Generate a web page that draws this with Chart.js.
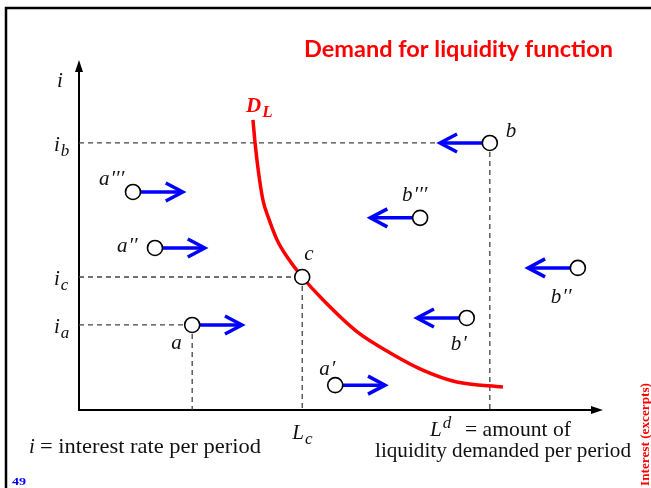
<!DOCTYPE html>
<html><head><meta charset="utf-8">
<script src="https://cdn.jsdelivr.net/npm/chart.js@4"></script>
<style>html,body{margin:0;padding:0;background:#fff}#wrap{width:651px;height:488px;position:relative}</style>
</head><body><div id="wrap"><canvas id="c" width="651" height="488"></canvas></div>
<script>
// ---- data ----
const curveL = [33.2, 33.6, 34.2, 35.1, 36.3, 37.8, 40.1, 42.6, 46.6, 53.1, 59.4, 65.6, 72.1, 80.9];
const curveI = [82.9, 76.3, 68.6, 60.0, 54.3, 48.6, 42.9, 38.0, 31.4, 22.3, 16.3, 11.4, 8.0, 6.6];
const pointBase   = ['b', 'a', 'a', 'c', 'a', 'a', 'b', 'b', 'b'];
const pointPrimes = [0, 3, 2, 0, 0, 1, 3, 2, 1];
const pointL = [78.4, 10.3, 14.5, 42.6, 21.6, 48.9, 65.1, 95.2, 74.0];
const pointI = [76.3, 62.3, 46.3, 38.0, 24.3, 7.1, 54.9, 40.6, 26.3];
const arrowShift = [-9.5, 9.5, 9.5, 0, 9.5, 9.5, -9.5, -9.5, -9.5];
const levelNames = ['b', 'c', 'a'];
const levelI = [76.3, 38.0, 24.3];
const levelL = [78.4, 42.6, 21.6];
const xTickNames = ['c'];
const xTickL = [42.6];

// ---- layout (label offsets in px relative to point) ----
const labelOff = [[16, -6], [-34, -7], [-38, 4], [2, -17], [-21, 24], [-16, -10], [-18, -17], [-27, 35], [-16, 32]];

const serif = '"Liberation Serif", "DejaVu Serif", serif';

function fitText(ctx, text, x, y, width, align) {
  const w = ctx.measureText(text).width;
  const s = width / w;
  ctx.save();
  ctx.textAlign = 'left';
  let x0 = x;
  if (align === 'right') x0 = x - width;
  else if (align === 'center') x0 = x - width / 2;
  ctx.translate(x0, y);
  ctx.scale(s, 1);
  ctx.fillText(text, 0, 0);
  ctx.restore();
}

function mathLabel(ctx, x, y, base, sub, sup, primes, size, color, bold) {
  const w = bold ? 'bold ' : '';
  ctx.fillStyle = color;
  ctx.textAlign = 'left';
  ctx.textBaseline = 'alphabetic';
  ctx.font = 'italic ' + w + size + 'px ' + serif;
  ctx.fillText(base, x, y);
  let cx = x + ctx.measureText(base).width;
  if (primes) {
    const p = '′'.repeat(primes);
    ctx.fillText(p, cx + 1, y);
    cx += ctx.measureText(p).width + 1;
  }
  if (sub) {
    ctx.font = 'italic ' + w + Math.round(size * 0.8) + 'px ' + serif;
    ctx.fillText(sub, cx + 1, y + size * 0.22);
    cx += ctx.measureText(sub).width + 1;
  }
  if (sup) {
    ctx.font = 'italic ' + w + Math.round(size * 0.8) + 'px ' + serif;
    ctx.fillText(sup, cx + 1, y - size * 0.4);
    cx += ctx.measureText(sup).width + 1;
  }
  return cx;
}

const datasets = [];
// circles (top)
datasets.push({
  type: 'scatter',
  data: pointL.map((v, k) => ({x: v, y: pointI[k]})),
  pointRadius: 7.5, pointBackgroundColor: '#ffffff', pointBorderColor: '#000000', pointBorderWidth: 1.6,
  showLine: false
});
// arrows
pointL.forEach((v, k) => {
  if (!arrowShift[k]) return;
  datasets.push({
    type: 'line',
    data: [{x: v, y: pointI[k]}, {x: v + arrowShift[k], y: pointI[k]}],
    borderColor: '#0000ff', borderWidth: 3.5, pointRadius: 0, fill: false
  });
});
// demand curve
datasets.push({
  type: 'line',
  data: curveL.map((v, k) => ({x: v, y: curveI[k]})),
  borderColor: '#ff0000', borderWidth: 3.5, pointRadius: 0, fill: false,
  tension: 0.4, cubicInterpolationMode: 'monotone'
});
// dashed reference lines
levelI.forEach((lv, k) => {
  datasets.push({type: 'line', data: [{x: 0, y: lv}, {x: levelL[k], y: lv}],
    borderColor: '#444444', borderWidth: 1.3, borderDash: [5, 4], pointRadius: 0, fill: false});
  datasets.push({type: 'line', data: [{x: levelL[k], y: lv}, {x: levelL[k], y: 0}],
    borderColor: '#444444', borderWidth: 1.3, borderDash: [5, 4], pointRadius: 0, fill: false});
});

const deco = {
  id: 'deco',
  beforeDatasetsDraw(chart) {
    const ctx = chart.ctx, a = chart.chartArea;
    ctx.save();
    ctx.strokeStyle = '#000'; ctx.lineWidth = 2.5;
    ctx.strokeRect(6, 8, 720, 600);
    ctx.lineWidth = 2; ctx.strokeStyle = '#000'; ctx.fillStyle = '#000';
    ctx.beginPath(); ctx.moveTo(a.left, a.bottom); ctx.lineTo(a.left, a.top + 8); ctx.stroke();
    ctx.beginPath(); ctx.moveTo(a.left - 1, a.bottom); ctx.lineTo(a.right - 8, a.bottom); ctx.stroke();
    ctx.beginPath(); ctx.moveTo(a.left, a.top); ctx.lineTo(a.left - 4, a.top + 12); ctx.lineTo(a.left + 4, a.top + 12); ctx.closePath(); ctx.fill();
    ctx.beginPath(); ctx.moveTo(a.right, a.bottom); ctx.lineTo(a.right - 12, a.bottom - 4); ctx.lineTo(a.right - 12, a.bottom + 4); ctx.closePath(); ctx.fill();
    ctx.restore();
  },
  afterDatasetsDraw(chart) {
    const ctx = chart.ctx, xs = chart.scales.x, ys = chart.scales.y;
    ctx.save();
    ctx.strokeStyle = '#0000ff'; ctx.lineWidth = 3.5; ctx.lineCap = 'butt'; ctx.lineJoin = 'miter';
    pointL.forEach((v, k) => {
      if (!arrowShift[k]) return;
      const tx = xs.getPixelForValue(v + arrowShift[k]);
      const ty = ys.getPixelForValue(pointI[k]);
      const d = Math.sign(arrowShift[k]);
      ctx.beginPath();
      ctx.moveTo(tx - d * 17, ty - 9);
      ctx.lineTo(tx, ty);
      ctx.lineTo(tx - d * 17, ty + 9);
      ctx.stroke();
    });
    pointL.forEach((v, k) => {
      const px = xs.getPixelForValue(v) + labelOff[k][0];
      const py = ys.getPixelForValue(pointI[k]) + labelOff[k][1];
      mathLabel(ctx, px, py, pointBase[k], null, null, pointPrimes[k], 21, '#111', false);
    });
    levelI.forEach((lv, k) => {
      mathLabel(ctx, 54, ys.getPixelForValue(lv) + 8, 'i', levelNames[k], null, 0, 21, '#111', false);
    });
    mathLabel(ctx, 57, 87, 'i', null, null, 0, 21, '#111', false);
    xTickL.forEach((lv, k) => {
      mathLabel(ctx, xs.getPixelForValue(lv) - 10, 439, 'L', xTickNames[k], null, 0, 21, '#111', false);
    });
    mathLabel(ctx, 246, 112, 'D', 'L', null, 0, 21, '#ff0000', true);
    // axis texts
    mathLabel(ctx, 430, 436, 'L', null, 'd', 0, 21, '#111', false);
    ctx.font = '22px ' + serif; ctx.fillStyle = '#111'; ctx.textBaseline = 'alphabetic';
    fitText(ctx, '= amount of', 465, 436, 106, 'left');
    fitText(ctx, 'liquidity demanded per period', 375, 457, 256, 'left');
    mathLabel(ctx, 29, 453, 'i', null, null, 0, 21, '#111', false);
    ctx.font = '22px ' + serif; ctx.fillStyle = '#111';
    fitText(ctx, '= interest rate per period', 40, 453, 221, 'left');
    // title
    ctx.font = 'bold 22px Lato, "Open Sans", sans-serif';
    ctx.fillStyle = '#ff0000';
    fitText(ctx, 'Demand for liquidity function', 304, 57, 309, 'left');
    // page number
    ctx.font = 'bold 11px ' + serif; ctx.fillStyle = '#0000ff';
    fitText(ctx, '49', 12, 485, 14, 'left');
    // side text
    ctx.translate(649, 486); ctx.rotate(-Math.PI / 2);
    ctx.font = 'bold 12px ' + serif; ctx.fillStyle = '#ff0000';
    fitText(ctx, 'Interest (excerpts)', 0, 0, 103, 'left');
    ctx.restore();
  }
};

new Chart(document.getElementById('c'), {
  type: 'scatter',
  data: {datasets},
  options: {
    responsive: false, animation: false, devicePixelRatio: 1,
    layout: {padding: {left: 79, right: 48, top: 60, bottom: 78}},
    scales: {
      x: {type: 'linear', min: 0, max: 100, display: false},
      y: {type: 'linear', min: 0, max: 100, display: false}
    },
    plugins: {legend: {display: false}, tooltip: {enabled: false}}
  },
  plugins: [deco]
});
</script></body></html>
